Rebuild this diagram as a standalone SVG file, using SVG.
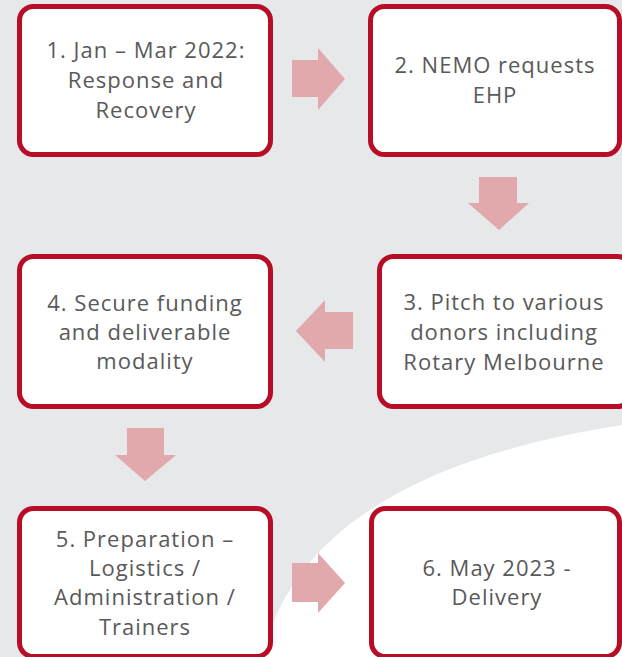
<svg xmlns="http://www.w3.org/2000/svg" width="622" height="657" viewBox="0 0 622 657">
<defs>
<style>
.box{fill:#ffffff;stroke:#b70d26;stroke-width:5}
.arr{fill:#e1a9ab}
.t{font-family:"Open Sans",Lato,"Liberation Sans",sans-serif;font-size:22px;letter-spacing:1px;fill:#595959;text-anchor:middle}
</style>
</defs>
<rect x="0" y="0" width="622" height="657" fill="#e7e8ea"/>
<path d="M262 657 C290 540 400 460 622 425 L622 657 Z" fill="#ffffff"/>
<g id="connectors">
<polygon class="arr" points="292,60 318,60 318,48 345,79 318,110 318,97 292,97"/>
<polygon class="arr" points="479,177 517,177 517,203 529,203 499,230 468,203 479,203"/>
<polygon class="arr" points="353,312 325,312 325,300 296,331 325,362 325,349 353,349"/>
<polygon class="arr" points="127,428 164,428 164,455 176,455 145,481 115,455 127,455"/>
<polygon class="arr" points="292,563 318,563 318,553 345,583 318,613 318,602 292,602"/>
</g>
<g id="n1">
<rect class="box" x="19.5" y="6.5" width="251" height="148" rx="14"/>
<text class="t" x="146" y="58">1. Jan – Mar 2022:</text>
<text class="t" x="146" y="88">Response and</text>
<text class="t" x="146" y="118">Recovery</text>
</g>
<g id="n2">
<rect class="box" x="370.5" y="6.5" width="249" height="148" rx="14"/>
<text class="t" x="495" y="73">2. NEMO requests</text>
<text class="t" x="495" y="103">EHP</text>
</g>
<g id="n3">
<rect class="box" x="379.5" y="256.5" width="252" height="150" rx="14"/>
<text class="t" x="504" y="310">3. Pitch to various</text>
<text class="t" x="504" y="340">donors including</text>
<text class="t" x="504" y="370">Rotary Melbourne</text>
</g>
<g id="n4">
<rect class="box" x="19.5" y="256.5" width="251" height="150" rx="14"/>
<text class="t" x="145" y="311">4. Secure funding</text>
<text class="t" x="145" y="340">and deliverable</text>
<text class="t" x="145" y="369">modality</text>
</g>
<g id="n5">
<rect class="box" x="19.5" y="508.5" width="251" height="148" rx="14"/>
<text class="t" x="145" y="547">5. Preparation –</text>
<text class="t" x="145" y="576">Logistics /</text>
<text class="t" x="145" y="605">Administration /</text>
<text class="t" x="145" y="635">Trainers</text>
</g>
<g id="n6">
<rect class="box" x="371.5" y="508.5" width="248" height="148" rx="14"/>
<text class="t" x="497" y="576">6. May 2023 -</text>
<text class="t" x="497" y="605">Delivery</text>
</g>
</svg>
